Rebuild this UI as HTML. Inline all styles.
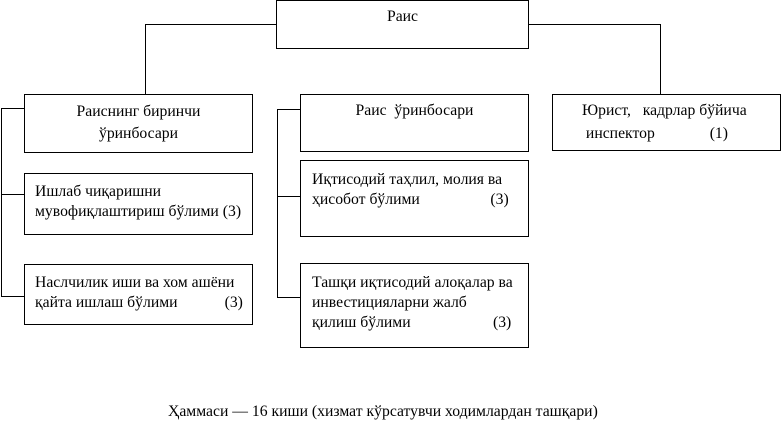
<!DOCTYPE html>
<html><head><meta charset="utf-8"><style>
body{margin:0;width:782px;height:434px;background:#fff;position:relative;overflow:hidden;font-family:"Liberation Serif","DejaVu Serif",serif;font-size:15.7px;color:#000}
.b{position:absolute;border:1px solid #000;box-sizing:border-box}
.l{position:absolute;background:#000}
.t{position:absolute;white-space:pre;line-height:20px}
</style></head><body>
<div class="b" style="left:276px;top:0;width:253px;height:49px"></div>
<div class="t" style="left:276px;width:253px;text-align:center;top:7px">Раис</div>
<div class="l" style="left:145px;top:24px;width:132px;height:1px"></div>
<div class="l" style="left:145px;top:24px;width:1px;height:70px"></div>
<div class="l" style="left:528px;top:24px;width:132px;height:1px"></div>
<div class="l" style="left:660px;top:24px;width:1px;height:70px"></div>

<div class="b" style="left:24px;top:94px;width:229px;height:59px"></div>
<div class="t" style="left:24px;width:229px;text-align:center;top:101px;line-height:22px">Раиснинг биринчи<br>ўринбосари</div>
<div class="b" style="left:24px;top:173px;width:229px;height:62px"></div>
<div class="t" style="left:35px;top:182px">Ишлаб чиқаришни<br>мувофиқлаштириш бўлими (3)</div>
<div class="b" style="left:24px;top:264px;width:229px;height:61px"></div>
<div class="t" style="left:35px;top:273px">Наслчилик иши ва хом ашёни<br>қайта ишлаш бўлими            (3)</div>
<div class="l" style="left:1px;top:108px;width:1px;height:189px"></div>
<div class="l" style="left:1px;top:108px;width:24px;height:1px"></div>
<div class="l" style="left:1px;top:194px;width:24px;height:1px"></div>
<div class="l" style="left:1px;top:296px;width:24px;height:1px"></div>

<div class="b" style="left:300px;top:94px;width:229px;height:58px"></div>
<div class="t" style="left:300px;width:229px;text-align:center;top:101px">Раис  ўринбосари</div>
<div class="b" style="left:300px;top:160px;width:229px;height:77px"></div>
<div class="t" style="left:312px;top:170px">Иқтисодий таҳлил, молия ва<br>ҳисобот бўлими                  (3)</div>
<div class="b" style="left:300px;top:263px;width:229px;height:85px"></div>
<div class="t" style="left:312px;top:273px">Ташқи иқтисодий алоқалар ва<br>инвестицияларни жалб<br>қилиш бўлими                     (3)</div>
<div class="l" style="left:277px;top:109px;width:1px;height:189px"></div>
<div class="l" style="left:277px;top:109px;width:24px;height:1px"></div>
<div class="l" style="left:277px;top:196px;width:24px;height:1px"></div>
<div class="l" style="left:277px;top:297px;width:24px;height:1px"></div>

<div class="b" style="left:552px;top:94px;width:229px;height:57px"></div>
<div class="t" style="left:582px;top:99px;line-height:23px">Юрист,   кадрлар бўйича<br> инспектор              (1)</div>

<div class="t" style="left:168px;top:402px">Ҳаммаси — 16 киши (хизмат кўрсатувчи ходимлардан ташқари)</div>
</body></html>
